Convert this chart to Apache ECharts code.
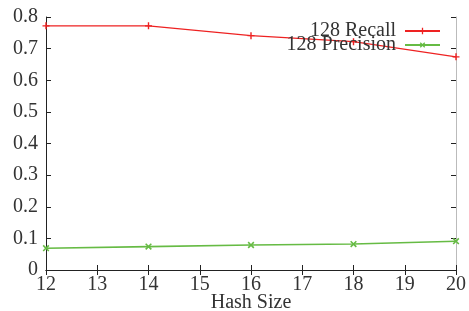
<!DOCTYPE html>
<html>
<head>
<meta charset="utf-8">
<script src="https://cdn.jsdelivr.net/npm/echarts@6/dist/echarts.min.js"></script>
<style>
html, body { margin: 0; padding: 0; background: #fff; }
#main { width: 469px; height: 311px; }
</style>
</head>
<body>
<div id="main"></div>
<script>
var hashSizes = [12, 14, 16, 18, 20]
var recall128 = [0.772, 0.772, 0.741, 0.722, 0.674]
var precision128 = [0.069, 0.074, 0.079, 0.082, 0.091]

var font = 'Liberation Serif'
var plus = 'path://M4,0H6V4H10V6H6V10H4V6H0V4H4Z'

function pairs(xs, ys) {
    return xs.map(function (x, i) { return [x, ys[i]] })
}

var myChart = echarts.init(document.getElementById('main'))

var tickStyle = { inside: true, length: 5, lineStyle: { color: '#222', width: 1 } }
var lineStyle = { lineStyle: { color: '#222', width: 1 } }

var option = {
    animation: false,
    textStyle: { fontFamily: font },
    grid: { left: 46, right: 13, top: 17, bottom: 41, containLabel: false, outerBoundsMode: 'none' },
    legend: {
        orient: 'vertical',
        right: 28,
        top: 21,
        align: 'right',
        padding: 0,
        itemWidth: 35,
        itemHeight: 8,
        itemGap: -6,
        textStyle: { fontFamily: font, fontSize: 20, color: '#333', padding: [0, 4, 0, 0] },
        data: ['128 Recall', '128 Precision']
    },
    xAxis: [{
        type: 'value', min: 12, max: 20, interval: 1,
        axisLine: lineStyle, axisTick: tickStyle, splitLine: { show: false },
        axisLabel: { fontFamily: font, fontSize: 20, color: '#333', margin: 5 },
        name: 'Hash Size', nameLocation: 'middle', nameGap: 23, nameMoveOverlap: false,
        nameTextStyle: { fontFamily: font, fontSize: 20, color: '#333' }
    }, {
        type: 'value', min: 12, max: 20, interval: 1, position: 'top',
        axisLine: lineStyle, axisTick: tickStyle, axisLabel: { show: false }, splitLine: { show: false }
    }],
    yAxis: [{
        type: 'value', min: 0, max: 0.8, interval: 0.1,
        axisLine: lineStyle, axisTick: tickStyle, splitLine: { show: false },
        axisLabel: {
            fontFamily: font, fontSize: 20, color: '#333', margin: 8,
            formatter: function (v) { return v === 0 ? '0' : v.toFixed(1) }
        }
    }, {
        type: 'value', min: 0, max: 0.8, interval: 0.1, position: 'right',
        axisLine: { lineStyle: { color: '#bbb', width: 1 } }, axisTick: tickStyle,
        axisLabel: { show: false }, splitLine: { show: false }
    }],
    series: [{
        name: '128 Recall',
        type: 'line',
        data: pairs(hashSizes, recall128),
        symbol: plus,
        symbolSize: 7,
        color: '#ee2222',
        lineStyle: { width: 1.1 },
        itemStyle: { color: '#ee2222' }
    }, {
        name: '128 Precision',
        type: 'line',
        data: pairs(hashSizes, precision128),
        symbol: plus,
        symbolRotate: 45,
        symbolSize: 8,
        color: '#66bb44',
        lineStyle: { width: 1.6 },
        itemStyle: { color: '#66bb44' }
    }]
}

myChart.setOption(option)
</script>
</body>
</html>
